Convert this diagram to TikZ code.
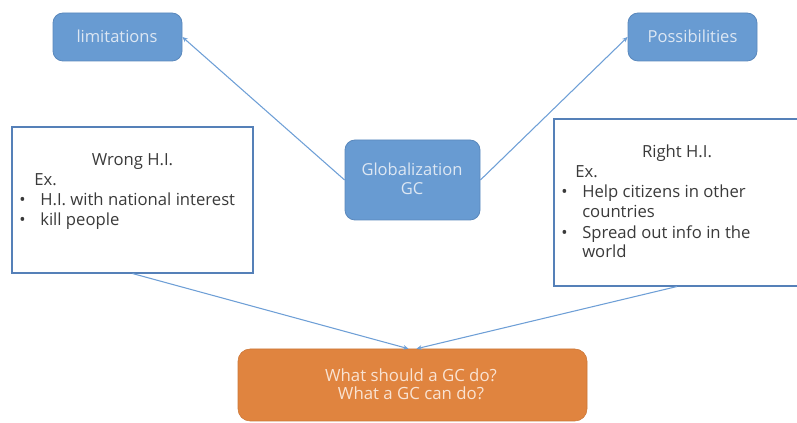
\documentclass[tikz,border=0pt]{standalone}
\usepackage{fontspec}
\setmainfont{Open Sans}
\usetikzlibrary{arrows.meta}

\definecolor{boxblue}{HTML}{689BD2}
\definecolor{boxblueline}{HTML}{5A88BC}
\definecolor{lightlabel}{HTML}{DDE7F3}
\definecolor{boxorange}{HTML}{E0843F}
\definecolor{orangelabel}{HTML}{F9E3D3}
\definecolor{frameline}{HTML}{5580B8}
\definecolor{linkblue}{HTML}{6E9FD6}
\definecolor{bodytext}{HTML}{3A3A3A}

\tikzset{
  bluebox/.style={draw=boxblueline, fill=boxblue, line width=0.6pt, rounded corners=7.5pt, inner sep=0pt},
  orangebox/.style={draw=boxorange!90!black, fill=boxorange, line width=0.4pt, rounded corners=9pt, inner sep=0pt},
  framebox/.style={draw=frameline, fill=white, line width=0.8pt, inner sep=0pt},
  label/.style={inner sep=0pt, anchor=base, text=lightlabel, font=\fontsize{12.4}{15}\selectfont},
  olabel/.style={inner sep=0pt, anchor=base, text=orangelabel, font=\fontsize{12.6}{15}\selectfont},
  body/.style={inner sep=0pt, anchor=base west, text=bodytext, font=\fontsize{12.5}{15}\selectfont},
  bodyc/.style={body, anchor=base},
  link/.style={draw=linkblue, line width=0.8pt, -{Stealth[length=4pt, width=3.5pt]}},
}

\begin{document}
\begin{tikzpicture}[x=0.75pt, y=-0.75pt]
  \useasboundingbox (0,0) rectangle (797,423);

  % main boxes
  \node[bluebox, minimum width=96.75pt, minimum height=36pt] (lim) at (117.5,37) {};
  \node[bluebox, minimum width=96.75pt, minimum height=36pt] (pos) at (692.5,37) {};
  \node[bluebox, minimum width=101.25pt, minimum height=60pt] (glob) at (412.5,180) {};
  \node[framebox, minimum width=180.75pt, minimum height=109.5pt] (wrong) at (132.5,200) {};
  \node[framebox, minimum width=184.5pt, minimum height=125.25pt] (right) at (677,202.5) {};
  \node[orangebox, minimum width=261.75pt, minimum height=54pt] (act) at (412.5,385) {};

  % box labels
  \node[label] (limtxt) at (117,43) {limitations};
  \node[label] (postxt) at (692.5,43) {Possibilities};
  \node[label] (globtxt1) at (412,176) {Globalization};
  \node[label] (globtxt2) at (412,195) {GC};
  \node[olabel] (acttxt1) at (411,382) {What should a GC do?};
  \node[olabel] (acttxt2) at (411,400) {What a GC can do?};

  % wrong humanitarian intervention
  \node[bodyc] (wt) at (132.5,166) {Wrong H.I.};
  \node[body] (wex) at (34,186) {Ex.};
  \node[body] (wb1) at (19,206) {\textbullet};
  \node[body] (wi1) at (40,206) {H.I. with national interest};
  \node[body] (wb2) at (19,226) {\textbullet};
  \node[body] (wi2) at (40,226) {kill people};

  % right humanitarian intervention
  \node[bodyc] (rt) at (677,158) {Right H.I.};
  \node[body] (rex) at (575,178) {Ex.};
  \node[body] (rb1) at (561,198) {\textbullet};
  \node[body] (ri1) at (582,198) {Help citizens in other};
  \node[body] (ri1b) at (582,218) {countries};
  \node[body] (rb2) at (561,239) {\textbullet};
  \node[body] (ri2) at (582,239) {Spread out info in the};
  \node[body] (ri2b) at (582,258) {world};

  % connectors
  \draw[link] (glob.west) -- (lim.east);
  \draw[link] (glob.east) -- (pos.west);
  \draw[link] (wrong.south) -- ([xshift=-3pt]act.north);
  \draw[link] (right.south) -- ([xshift=3pt]act.north);
\end{tikzpicture}
\end{document}
